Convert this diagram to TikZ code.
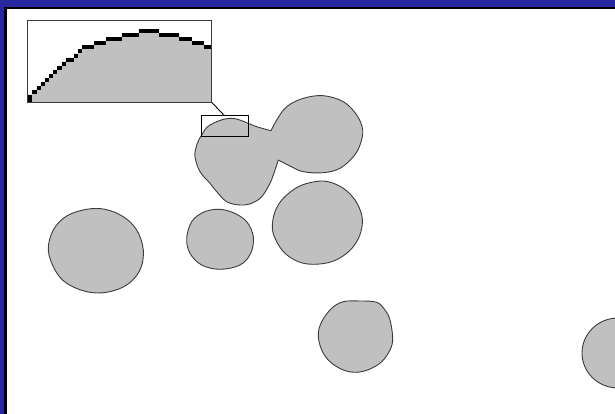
\documentclass[tikz,border=0pt]{standalone}
\definecolor{frameblue}{RGB}{40,40,160}
\definecolor{blobfill}{RGB}{192,192,192}
\definecolor{blobline}{RGB}{60,60,60}
\tikzset{
  blob/.style={fill=blobfill, draw=blobline, line width=0.9pt, line join=round},
  zoombox/.style={draw=black, line width=1pt},
}
\begin{document}
\begin{tikzpicture}[x=1pt,y=-1pt]
\useasboundingbox (0,0) rectangle (615,414);
\fill[white] (0,0) rectangle (615,414);
\begin{scope}
\clip (0,0) rectangle (615,414);
% blobs
\draw[blob] plot[smooth cycle, tension=0.6] coordinates {(48.3,250) (53.3,230) (66.7,216) (86.7,209.3) (105,209.3) (123.3,216.7) (136.7,230) (143.3,250) (140,270) (126.7,285) (106.7,292.3) (86.7,291.7) (66.7,283.3) (55,270)};
\draw[blob] plot[smooth cycle, tension=0.6] coordinates {(186.7,238.3) (191.7,221.7) (203.3,212.3) (218.3,209.3) (233.3,212.7) (246.7,221.7) (253.3,236.7) (250.7,253.3) (240,265) (220,269.3) (201.7,265) (190,253.3)};
\draw[blob] plot[smooth cycle, tension=0.6] coordinates {(272.3,228.3) (275,211.7) (283.3,198.3) (298.3,186.7) (315,181.7) (328.3,181.7) (343.3,188.3) (355,200) (361.7,215) (361.7,228.3) (356.7,241.7) (346.7,253.3) (331.7,261.7) (313.3,264.3) (298.3,261.7) (285,253.3) (276.7,241.7)};
\draw[blob] plot[smooth cycle, tension=0.6] coordinates {(318.3,335) (321.7,321.7) (331.7,308.3) (343.3,301.7) (360,301) (376.7,302.3) (385,310) (390,320) (392.7,338.3) (390,350) (381.7,361.7) (370,369) (356.7,372.3) (343.3,370) (330,361.7) (321.7,350)};
\draw[blob] (618,353) ellipse[x radius=36, y radius=35];
\draw[blob] plot[smooth, tension=0.6] coordinates {(271,130.7) (276.7,120) (286.7,106.7) (303.3,98.3) (323.3,95.7) (343.3,101.7) (356.7,115) (362.7,130) (360,145) (353.3,156.7) (340,168.3) (323.3,172.7) (303.3,171.7) (290,166) (278.3,160)}
  -- plot[smooth, tension=0.6] coordinates {(278.3,160) (275,170) (270,183.3) (261.7,196.7) (251.7,203.3) (240,205) (226.7,201.7) (216.7,191.7) (210,183.3) (200,171.7) (195,156.7) (196.7,145) (201.7,135) (210,125) (231.7,118.3) (256.7,126.7) (271,130.7)} -- cycle;
\end{scope}
% inset
\begin{scope}[shift={(25pt,-18pt)}, x=1pt/3, y=-1pt/3]
\fill[blobfill] (8,253) -- (8,230) -- (22,230) -- (22,217) -- (35,217) -- (35,205) -- (47,205) -- (47,193) -- (60,193) -- (60,181) -- (72,181) -- (72,169) -- (85,169) -- (85,156) -- (97,156) -- (97,144) -- (110,144) -- (110,131) -- (122,131) -- (122,119) -- (147,119) -- (147,107) -- (159,107) -- (159,94) -- (171,94) -- (171,82) -- (207,82) -- (207,70) -- (243,70) -- (243,58) -- (292,58) -- (292,46) -- (341,46) -- (341,34) -- (402,34) -- (402,46) -- (463,46) -- (463,58) -- (500,58) -- (500,70) -- (537,70) -- (537,82) -- (560,82) -- (560,253) -- cycle;
\fill[black] (8,230) rectangle (22,253);
\foreach \a/\b/\c in {22/35/217, 35/47/205, 47/60/193, 60/72/181, 72/85/169, 85/97/156, 97/110/144, 110/122/131, 122/147/119, 147/159/107, 159/171/94, 171/207/82, 207/243/70, 243/292/58, 292/341/46, 341/402/34, 402/463/46, 463/500/58, 500/537/70, 537/560/82}
  \fill[black] (\a,\c) rectangle (\b,{\c+12});
\draw[draw=blobline, line width=0.9pt] (8,8) rectangle (560,253);
\coordinate (insetcorner) at (560,253);
\end{scope}
\coordinate (zoomtop) at (224.5,115.7);
\draw[black, line width=0.9pt] (insetcorner) -- (zoomtop);
\draw[zoombox] (201.5,115.7) rectangle (248.3,136.7);
% frame
\fill[frameblue] (0,0) rectangle (615,7.5);
\fill[frameblue] (0,0) rectangle (4,414);
\fill[black] (4,7.5) rectangle (615,9.5);
\fill[black] (4,7.5) rectangle (6.5,414);
\end{tikzpicture}
\end{document}
